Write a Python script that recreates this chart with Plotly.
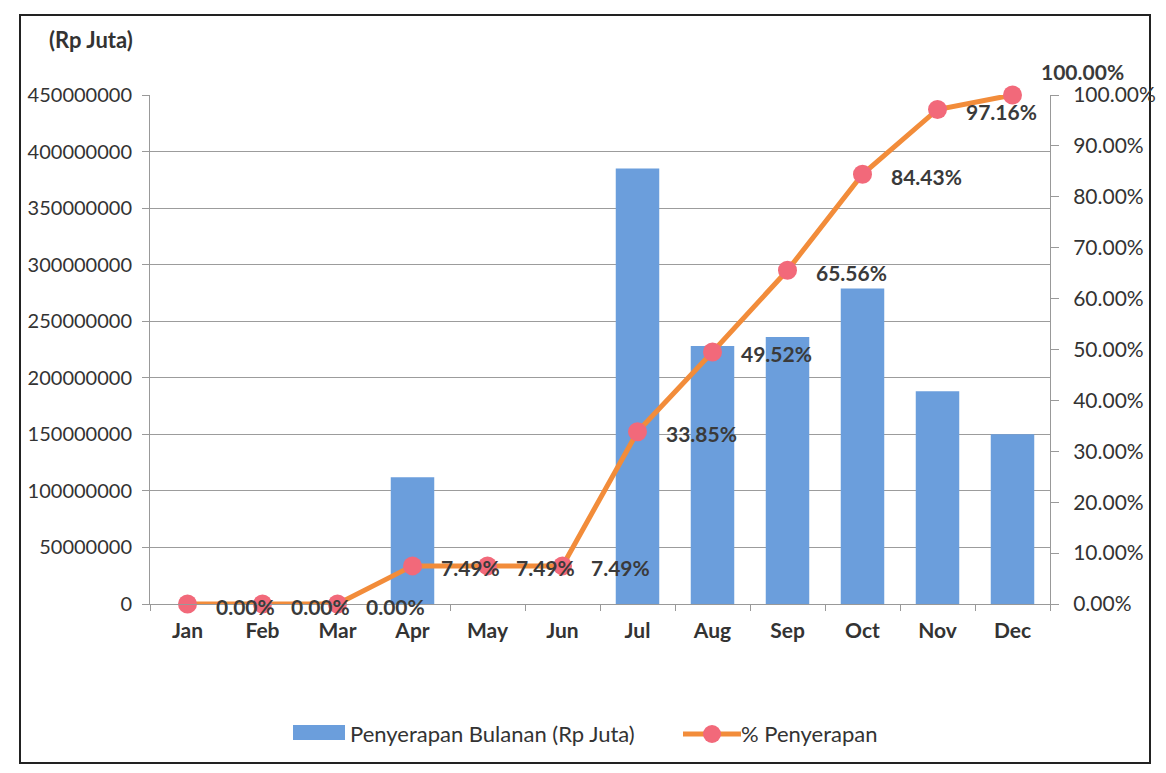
import plotly.graph_objects as go

months = ["Jan", "Feb", "Mar", "Apr", "May", "Jun", "Jul", "Aug", "Sep", "Oct", "Nov", "Dec"]
monthly = [0, 0, 0, 112000000, 0, 0, 385000000, 228000000, 236000000, 279000000, 188000000, 150000000]
pct = [0.0, 0.0, 0.0, 7.49, 7.49, 7.49, 33.85, 49.52, 65.56, 84.43, 97.16, 100.00]
left_ticks = [0, 50000000, 100000000, 150000000, 200000000, 250000000, 300000000, 350000000, 400000000, 450000000]
right_ticks = [0, 10, 20, 30, 40, 50, 60, 70, 80, 90, 100]
bar_name = "Penyerapan Bulanan (Rp Juta)"
line_name = "% Penyerapan"

FONT = "Lato"
TXT = "#333333"
BAR = "#6B9EDC"
LINE = "#F28C3A"
MARK = "#F2697A"

# page offset (body margin) and plot-area geometry in figure pixels
OFF = 8
W, H = 1166, 773
L, T = 150 - OFF, 95 - OFF
R, B = W - (1050 - OFF), H - (604 - OFF)
PW, PH = W - L - R, H - T - B


def px(x):
    return (x - OFF - L) / PW


def py(y):
    return (H - B - (y - OFF)) / PH


fig = go.Figure()
fig.add_trace(go.Bar(
    x=months, y=monthly, name=bar_name,
    marker=dict(color=BAR, line=dict(width=0)),
    yaxis="y", showlegend=False,
))
fig.add_trace(go.Scatter(
    x=months, y=pct, name=line_name, mode="lines+markers",
    line=dict(color=LINE, width=5),
    marker=dict(color=MARK, size=19),
    yaxis="y2", cliponaxis=False, showlegend=False,
))

annotations = []
for i, (m, p) in enumerate(zip(months, pct)):
    last = i == len(months) - 1
    annotations.append(dict(
        x=m, y=p, xref="x", yref="y2", text=f"{p:.2f}%",
        showarrow=False, xanchor="left", yanchor="middle",
        xshift=26, yshift=24 if last else -2,
        font=dict(family=FONT, size=21, color="#3a3a3a", weight="bold"),
    ))
annotations.append(dict(
    x=px(91), y=py(40), xref="paper", yref="paper", text="<b>(Rp Juta)</b>",
    showarrow=False, xanchor="center", yanchor="middle",
    font=dict(family=FONT, size=22, color=TXT),
))
# legend texts
annotations.append(dict(
    x=px(348), y=py(733), xref="paper", yref="paper", text=bar_name,
    showarrow=False, xanchor="left", yanchor="middle",
    font=dict(family=FONT, size=22, color=TXT),
))
annotations.append(dict(
    x=px(739), y=py(733), xref="paper", yref="paper", text=line_name,
    showarrow=False, xanchor="left", yanchor="middle",
    font=dict(family=FONT, size=22, color=TXT),
))

shapes = [
    dict(type="rect", xref="paper", yref="paper",
         x0=px(20), x1=px(1150), y0=py(763), y1=py(15),
         line=dict(color="#222222", width=2), fillcolor="rgba(0,0,0,0)", layer="below"),
    # legend symbols
    dict(type="rect", xref="paper", yref="paper",
         x0=px(293), x1=px(345), y0=py(740), y1=py(725),
         line=dict(width=0), fillcolor=BAR),
    dict(type="line", xref="paper", yref="paper",
         x0=px(683), x1=px(741), y0=py(734), y1=py(734),
         line=dict(color=LINE, width=5)),
    dict(type="circle", xref="paper", yref="paper",
         x0=px(703), x1=px(721), y0=py(743), y1=py(725),
         line=dict(width=0), fillcolor=MARK),
]

fig.update_layout(
    width=W, height=H,
    margin=dict(l=L, r=R, t=T, b=B),
    paper_bgcolor="white", plot_bgcolor="white",
    font=dict(family=FONT, size=19, color=TXT),
    bargap=0.42,
    showlegend=False,
    xaxis=dict(
        type="category", range=[-0.5, 11.5], showgrid=False, showline=True,
        linecolor="#999999", linewidth=1,
        ticks="outside", tickson="boundaries", ticklen=6, tickcolor="#999999",
        tickfont=dict(family=FONT, size=21, color=TXT, weight="bold"),
        ticklabelstandoff=8,
    ),
    yaxis=dict(
        range=[0, 450000000], tickvals=left_ticks, ticktext=[str(v) for v in left_ticks],
        showgrid=True, gridcolor="#9c9c9c", gridwidth=1,
        showline=True, linecolor="#999999", ticks="outside", ticklen=7, tickcolor="#999999",
        tickfont=dict(family=FONT, size=20, color=TXT), zeroline=False,
        ticklabelstandoff=6,
    ),
    yaxis2=dict(
        range=[0, 100], overlaying="y", side="right",
        tickvals=right_ticks, ticktext=[f"{v:.2f}%" for v in right_ticks],
        showgrid=False, showline=True, linecolor="#999999", ticks="outside", ticklen=8,
        tickcolor="#999999", tickfont=dict(family=FONT, size=21, color=TXT), zeroline=False,
        ticklabelstandoff=10,
    ),
    annotations=annotations,
    shapes=shapes,
)

fig.write_html("out.html")
